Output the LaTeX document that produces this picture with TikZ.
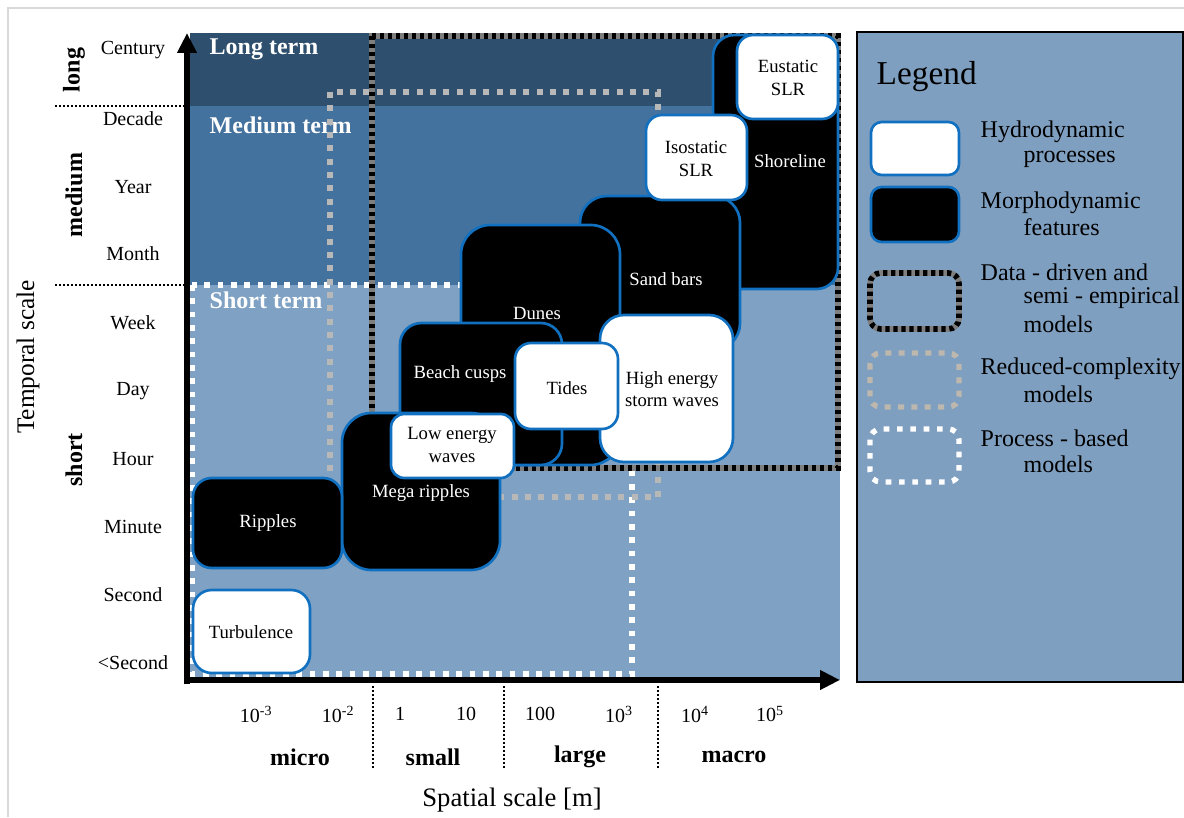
\documentclass[tikz,border=0pt]{standalone}
\usepackage{fontspec}
\setmainfont{Liberation Serif}
\usetikzlibrary{arrows.meta}
\definecolor{longc}{HTML}{2E4F6D}
\definecolor{medc}{HTML}{44729E}
\definecolor{shortc}{HTML}{7FA1C3}
\definecolor{legc}{HTML}{7F9FC0}
\definecolor{bblue}{HTML}{1170C0}
\definecolor{dgray}{HTML}{7F7F7F}
\definecolor{lgray}{HTML}{B8B8B8}
\definecolor{lgrayleg}{HTML}{BDB7AE}
\begin{document}
\begin{tikzpicture}[x=0.75pt,y=-0.75pt,
  hbox/.style={draw=bblue,line width=2pt,fill=white,rounded corners=#1},
  hbox/.default=10pt,
  mbox/.style={draw=bblue,line width=2pt,fill=black,rounded corners=#1},
  mbox/.default=14pt,
  btxt/.style={font=\fontsize{14}{17}\selectfont,align=center,text=black},
  wtxt/.style={btxt,text=white},
  ticklab/.style={font=\fontsize{15}{17}\selectfont},
  grp/.style={font=\bfseries\fontsize{18}{20}\selectfont,rotate=90},
  term/.style={font=\bfseries\fontsize{18}{20}\selectfont,text=white,anchor=west},
  ddg/.style={draw=dgray,line width=4.2pt},
  ddb/.style={draw=black,line width=4.2pt,dash pattern=on 3.2pt off 2.8pt},
  redm/.style={draw=lgray,line width=4pt,dash pattern=on 4.5pt off 5.5pt},
  pbm/.style={draw=white,line width=4pt,dash pattern=on 4.2pt off 5.8pt},
  sepline/.style={draw=black,line width=1.8pt,dash pattern=on 1.5pt off 1.5pt},
  legtxt/.style={font=\fontsize{18}{20}\selectfont,anchor=west},
  axisline/.style={line width=3.8pt,-{Triangle[length=15pt,width=14pt]}}
]
\useasboundingbox (0,0) rectangle (1184,817);
% frame
\draw[black!15,line width=0.8pt] (8,817) -- (8,8) -- (1184,8);

% bands
\fill[longc] (190,33) rectangle (840,106);
\fill[medc] (190,106) rectangle (840,285);
\fill[shortc] (190,285) rectangle (840,680);

\node[term] (tlong) at (205,49) {Long term};
\node[term] (tmed) at (205,125) {Medium term};
\node[term] (tshort) at (205,300) {Short term};

% model extents
\draw[pbm] (192,285) rectangle (632,674);
\draw[redm] (330,92) rectangle (658,497);
\draw[ddg] (372,36) rectangle (838,468);
\draw[ddb] (372,36) rectangle (838,468);

% feature / process boxes
\draw[mbox=16pt] (713,35) rectangle (838,289);
\node[wtxt] (shore) at (790,161) {Shoreline};
\draw[mbox=20pt] (580,196) rectangle (740,350);
\node[wtxt] (sand) at (666,279) {Sand bars};
\draw[mbox=22pt] (461,225) rectangle (620,465);
\node[wtxt] (dunes) at (537,313) {Dunes};
\draw[mbox=16pt] (400,323) rectangle (562,465);
\node[wtxt] (cusps) at (460,374) {Beach cusps};
\draw[hbox=18pt] (600,315) rectangle (733,462);
\node[btxt] (storm) at (672,389) {High energy\\storm waves};
\draw[hbox=12pt] (515,343) rectangle (618,429);
\node[btxt] (tides) at (567,388) {Tides};
\draw[mbox=22pt] (342,413) rectangle (500,570);
\node[wtxt] (mega) at (421,493) {Mega ripples};
\draw[hbox=10pt] (391,414) rectangle (514,478);
\node[btxt] (low) at (452,445) {Low energy\\waves};
\draw[hbox=12pt] (737,35) rectangle (838,119);
\node[btxt] (eust) at (788,78) {Eustatic\\SLR};
\draw[hbox=12pt] (646,115) rectangle (747,200);
\node[btxt] (iso) at (696,159) {Isostatic\\SLR};
\draw[mbox=14pt] (193,478) rectangle (342,568);
\node[wtxt] (ripples) at (268,523) {Ripples};
\draw[hbox=14pt] (193,590) rectangle (310,673);
\node[btxt] (turb) at (251,632) {Turbulence};

% axes
\coordinate (O) at (187,682);
\coordinate (ytop) at (187,33);
\coordinate (xend) at (840,680);
\draw[axisline] (187,684) -- (ytop);
\draw[axisline] (185,680) -- (xend);

% left separators
\draw[sepline] (55,106) -- (185,106);
\draw[sepline] (55,285) -- (185,285);
% bottom separators
\draw[sepline] (373,686) -- (373,770);
\draw[sepline] (504,686) -- (504,770);
\draw[sepline] (658,686) -- (658,770);

% y tick labels
\foreach \t/\yy in {Century/50,Decade/119,Year/187,Month/254,Week/323,Day/391,Hour/459,Minute/527,Second/595,{<Second}/663}
  \node[ticklab] at (133,\yy) {\t};
\node[grp] (glong) at (74,70) {long};
\node[grp] (gmed) at (74,195) {medium};
\node[grp] (gshort) at (74,460) {short};
\node[font=\fontsize{19}{21}\selectfont,rotate=90] (tscale) at (28,357) {Temporal scale};

% x tick labels
\node[ticklab] (x1) at (256,714) {10\textsuperscript{-3}};
\node[ticklab] (x2) at (338,714) {10\textsuperscript{-2}};
\node[ticklab] (x3) at (400,714) {1};
\node[ticklab] (x4) at (466,714) {10};
\node[ticklab] (x5) at (540,714) {100};
\node[ticklab] (x6) at (619,714) {10\textsuperscript{3}};
\node[ticklab] (x7) at (695,714) {10\textsuperscript{4}};
\node[ticklab] (x8) at (770,714) {10\textsuperscript{5}};
\node[font=\bfseries\fontsize{18}{20}\selectfont] (gmicro) at (300,757) {micro};
\node[font=\bfseries\fontsize{18}{20}\selectfont] (gsmall) at (433,757) {small};
\node[font=\bfseries\fontsize{18}{20}\selectfont] (glarge) at (580,757) {large};
\node[font=\bfseries\fontsize{18}{20}\selectfont] (gmacro) at (734,757) {macro};
\node[font=\fontsize{20}{22}\selectfont] (sscale) at (512,800) {Spatial scale [m]};

% legend
\draw[fill=legc,line width=1.5pt] (857,32) rectangle (1183,682);
\node[font=\fontsize{25}{27}\selectfont,anchor=west] (legt) at (872,77) {Legend};
\draw[hbox=8pt] (871,122) rectangle (959,175);
\draw[mbox=8pt] (871,187) rectangle (959,242);
\draw[ddg,rounded corners=8pt] (870,273) rectangle (959,329);
\draw[ddb,rounded corners=8pt] (870,273) rectangle (959,329);
\draw[redm,draw=lgrayleg,rounded corners=8pt] (870,353) rectangle (959,407);
\draw[pbm,rounded corners=8pt] (870,429) rectangle (959,482);
\node[legtxt] (l1a) at (976,132) {Hydrodynamic};
\node[legtxt] (l1b) at (1019,159) {processes};
\node[legtxt] (l2a) at (976,203) {Morphodynamic};
\node[legtxt] (l2b) at (1019,227) {features};
\node[legtxt] (l3a) at (976,272) {Data - driven and};
\node[legtxt] (l3b) at (1019,298) {semi - empirical};
\node[legtxt] (l3c) at (1019,324) {models};
\node[legtxt] (l4a) at (976,369) {Reduced-complexity};
\node[legtxt] (l4b) at (1019,394) {models};
\node[legtxt] (l5a) at (976,438) {Process - based};
\node[legtxt] (l5b) at (1019,464) {models};
\end{tikzpicture}
\end{document}
